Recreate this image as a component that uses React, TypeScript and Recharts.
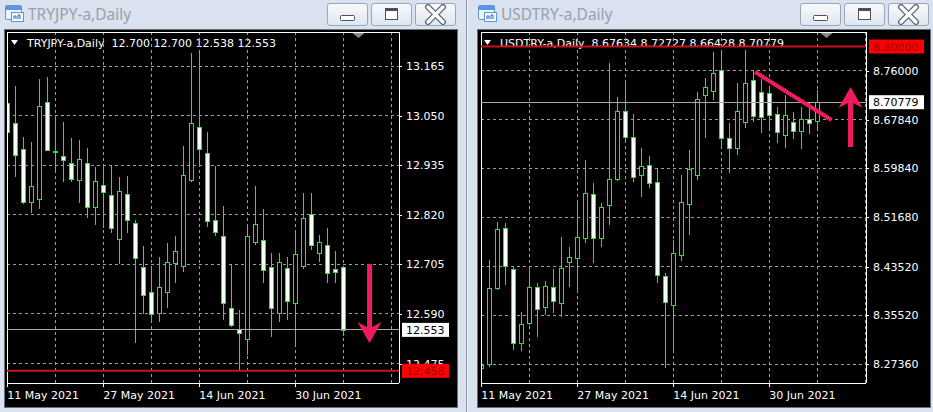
import React from 'react';
import { ComposedChart, Bar, XAxis, YAxis, CartesianGrid, ReferenceLine } from 'recharts';

// Daily sessions shown on both terminals (11 May .. 8 Jul 2021)
const dates = [
  '2021-05-11', '2021-05-12', '2021-05-13', '2021-05-14', '2021-05-17', '2021-05-18', '2021-05-19',
  '2021-05-20', '2021-05-21', '2021-05-24', '2021-05-25', '2021-05-26', '2021-05-27', '2021-05-28',
  '2021-05-31', '2021-06-01', '2021-06-02', '2021-06-03', '2021-06-04', '2021-06-07', '2021-06-08',
  '2021-06-09', '2021-06-10', '2021-06-11', '2021-06-14', '2021-06-15', '2021-06-16', '2021-06-17',
  '2021-06-18', '2021-06-21', '2021-06-22', '2021-06-23', '2021-06-24', '2021-06-25', '2021-06-28',
  '2021-06-29', '2021-06-30', '2021-07-01', '2021-07-02', '2021-07-05', '2021-07-06', '2021-07-07',
  '2021-07-08',
];

// TRYJPY-a daily OHLC
const tjOpen = [13.079, 13.033, 12.973, 12.850, 12.857, 13.082, 12.967, 12.956, 12.940, 12.901, 12.940, 12.838, 12.889, 12.866, 12.764, 12.868, 12.801, 12.699, 12.641, 12.593, 12.641, 12.709, 12.702, 12.901, 13.024, 12.963, 12.808, 12.771, 12.604, 12.556, 12.532, 12.757, 12.762, 12.699, 12.593, 12.697, 12.616, 12.702, 12.822, 12.732, 12.750, 12.694, 12.700];
const tjHigh = [13.116, 13.119, 13.000, 12.989, 13.135, 13.140, 13.047, 13.035, 12.998, 12.994, 12.975, 12.931, 12.936, 12.936, 12.908, 12.910, 12.808, 12.748, 12.699, 12.722, 12.755, 12.771, 12.980, 13.195, 13.202, 13.012, 12.933, 12.841, 12.704, 12.600, 12.799, 12.887, 12.834, 12.732, 12.732, 12.722, 12.785, 12.871, 12.871, 12.773, 12.790, 12.736, 12.700];
const tjLow = [12.994, 12.908, 12.845, 12.824, 12.834, 12.968, 12.917, 12.896, 12.896, 12.848, 12.813, 12.797, 12.790, 12.778, 12.706, 12.778, 12.523, 12.590, 12.570, 12.572, 12.604, 12.662, 12.688, 12.896, 12.931, 12.792, 12.771, 12.576, 12.560, 12.458, 12.495, 12.750, 12.662, 12.537, 12.572, 12.576, 12.514, 12.695, 12.739, 12.711, 12.662, 12.662, 12.538];
const tjClose = [13.012, 12.959, 12.850, 12.887, 13.072, 12.970, 12.965, 12.947, 12.903, 12.950, 12.838, 12.899, 12.873, 12.790, 12.875, 12.808, 12.720, 12.634, 12.590, 12.653, 12.711, 12.736, 12.912, 13.033, 12.973, 12.806, 12.780, 12.616, 12.565, 12.546, 12.771, 12.799, 12.692, 12.604, 12.711, 12.620, 12.729, 12.813, 12.750, 12.757, 12.685, 12.688, 12.553];

// USDTRY-a daily OHLC
const utOpen = [8.26779, 8.27441, 8.40024, 8.49957, 8.43169, 8.30918, 8.34229, 8.40189, 8.36878, 8.40189, 8.37540, 8.44328, 8.44990, 8.48301, 8.55587, 8.48301, 8.53766, 8.58070, 8.69328, 8.65023, 8.58732, 8.60388, 8.57573, 8.42010, 8.37209, 8.45487, 8.53931, 8.58732, 8.71977, 8.72639, 8.76116, 8.64858, 8.63202, 8.67507, 8.74460, 8.72474, 8.72308, 8.68831, 8.65354, 8.67507, 8.66017, 8.68003, 8.67634];
const utHigh = [8.32077, 8.44659, 8.50951, 8.50785, 8.43501, 8.36050, 8.43501, 8.40852, 8.41183, 8.43169, 8.48467, 8.46811, 8.54593, 8.61216, 8.57408, 8.54097, 8.77275, 8.71646, 8.74295, 8.68831, 8.63202, 8.61878, 8.59726, 8.42507, 8.47971, 8.58732, 8.62871, 8.72474, 8.74791, 8.79096, 8.79427, 8.67341, 8.73964, 8.79427, 8.75950, 8.74626, 8.73301, 8.69990, 8.71977, 8.69162, 8.69990, 8.70818, 8.72727];
const utLow = [8.25620, 8.26945, 8.39693, 8.40520, 8.29759, 8.29593, 8.33898, 8.31911, 8.35554, 8.35885, 8.35222, 8.40189, 8.39362, 8.47474, 8.44163, 8.46811, 8.50455, 8.57739, 8.64527, 8.57573, 8.55090, 8.56580, 8.40852, 8.26779, 8.29263, 8.44494, 8.48798, 8.57904, 8.64858, 8.71149, 8.63202, 8.59064, 8.62043, 8.66514, 8.67507, 8.65686, 8.66514, 8.64030, 8.63202, 8.64692, 8.63037, 8.65520, 8.66428];
const utClose = [8.27276, 8.40024, 8.49792, 8.43666, 8.30918, 8.34064, 8.40189, 8.36547, 8.40354, 8.37871, 8.43335, 8.45156, 8.48467, 8.55752, 8.48301, 8.53435, 8.58070, 8.69328, 8.65023, 8.58401, 8.60222, 8.57408, 8.42176, 8.37706, 8.45819, 8.54262, 8.59726, 8.71315, 8.73301, 8.75619, 8.64858, 8.63202, 8.69328, 8.73964, 8.68500, 8.68335, 8.68666, 8.65851, 8.68666, 8.66017, 8.68003, 8.67341, 8.70779];

// price scale labels
const tjTicks = [12.475, 12.59, 12.705, 12.82, 12.935, 13.05, 13.165];
const utTicks = [8.2736, 8.3552, 8.4352, 8.5168, 8.5984, 8.6784, 8.76];

// horizontal levels drawn in red
const tjSupport = 12.458;
const utResistance = 8.8;

// grid every 6 sessions, date label every 12
const gridIdx = [0, 6, 12, 18, 24, 30, 36, 42, 48];
const monthNames = ['Jan', 'Feb', 'Mar', 'Apr', 'May', 'Jun', 'Jul', 'Aug', 'Sep', 'Oct', 'Nov', 'Dec'];

const GREEN = '#33e033';
const PINK = '#f01b5e';
const FRAME = '#d9e2ee';
const AXIS_FONT = '"DejaVu Sans", Verdana, sans-serif';

const fmtDate = (s: string) => {
  const [y, m, d] = s.split('-').map(Number);
  return `${d} ${monthNames[m - 1]} ${y}`;
};

const Candle = (props: any) => {
  const { x, y, width, height, payload } = props;
  const { open, close, high, low } = payload;
  const cx = Math.round(x + width / 2) + 0.5;
  const span = high - low || 1;
  const toY = (v: number) => y + ((high - v) / span) * height;
  const top = Math.round(toY(Math.max(open, close))) + 0.5;
  const bot = Math.round(toY(Math.min(open, close))) + 0.5;
  const bear = close < open;
  return (
    <g shapeRendering="crispEdges">
      <line x1={cx} x2={cx} y1={y} y2={y + height} stroke={GREEN} />
      <rect x={cx - 2} y={top} width={4} height={Math.max(bot - top, 0)} fill={bear ? '#f4fff4' : '#000'} stroke={GREEN} />
    </g>
  );
};

const DateTick = (props: any) => {
  const { x, y, payload } = props;
  const i = payload.value;
  if (i % 12 !== 0 || !dates[i]) return <g />;
  return (
    <g>
      <line x1={x} x2={x} y1={y} y2={y + 4} stroke="#fff" shapeRendering="crispEdges" />
      <text x={x} y={y + 15.5} fill="#fff" fontSize={11} fontFamily={AXIS_FONT}>{fmtDate(dates[i])}</text>
    </g>
  );
};

// price scale: plain labels, plus boxed tags for the last close and the red level
const PriceTick = (props: any) => {
  const { x, y, payload, digits, close, level, tagWidth } = props;
  const v = payload.value;
  const text = v.toFixed(digits);
  if (v === level || v === close) {
    const isLevel = v === level;
    return (
      <g>
        <rect x={x - 4} y={y - 7} width={tagWidth} height={14} fill={isLevel ? '#ff0000' : '#ffffff'} />
        <text x={x} y={y + 4} fill={isLevel ? '#9b0000' : '#000'} fontSize={11} fontFamily={AXIS_FONT}>{text}</text>
      </g>
    );
  }
  return (
    <g>
      <line x1={x - 7} x2={x - 4} y1={Math.round(y) + 0.5} y2={Math.round(y) + 0.5} stroke="#fff" />
      <text x={x} y={y + 4} fill="#fff" fontSize={11} fontFamily={AXIS_FONT}>{text}</text>
    </g>
  );
};

// arrow from the first segment point (tail) to the second one (tip)
const arrowShape = (p: any) => {
  const { x1, y1, x2, y2 } = p;
  const dx = x2 - x1;
  const dy = y2 - y1;
  const len = Math.hypot(dx, dy) || 1;
  const ux = dx / len;
  const uy = dy / len;
  const nx = -uy;
  const ny = ux;
  const headLen = 21;
  const headHalf = 12;
  const shaft = 5;
  const notch = 5;
  const bx = x2 - ux * headLen;
  const by = y2 - uy * headLen;
  const pts = [
    [x1 + (nx * shaft) / 2, y1 + (ny * shaft) / 2],
    [bx + ux * notch + (nx * shaft) / 2, by + uy * notch + (ny * shaft) / 2],
    [bx + nx * headHalf, by + ny * headHalf],
    [x2, y2],
    [bx - nx * headHalf, by - ny * headHalf],
    [bx + ux * notch - (nx * shaft) / 2, by + uy * notch - (ny * shaft) / 2],
    [x1 - (nx * shaft) / 2, y1 - (ny * shaft) / 2],
  ];
  return <polygon points={pts.map((q) => q.join(',')).join(' ')} fill={PINK} />;
};

// small grey "chart shift" marker at the top of the plot
const shiftMarker = (p: any) => {
  const x = Math.round(p.x1) + 0.5;
  const top = Math.min(p.y1, p.y2);
  return <polygon points={`${x - 6},${top + 1} ${x + 6},${top + 1} ${x},${top + 6}`} fill="#8a8a8a" />;
};

interface ChartProps {
  open: number[];
  high: number[];
  low: number[];
  close: number[];
  digits: number;
  xDomain: [number, number];
  yDomain: [number, number];
  yTicks: number[];
  level: number;
  yAxisWidth: number;
  marginLeft: number;
  tagWidth: number;
  shiftAt: number;
  children?: React.ReactNode;
}

const CandleChart = ({ open, high, low, close, digits, xDomain, yDomain, yTicks, level, yAxisWidth, marginLeft, tagWidth, shiftAt, children }: ChartProps) => {
  const rows = dates.map((d, i) => ({ i, date: d, open: open[i], high: high[i], low: low[i], close: close[i] }));
  const last = rows[rows.length - 1];
  return (
    <ComposedChart width={452} height={377} data={rows} margin={{ top: 2, right: 0, bottom: 0, left: marginLeft }}>
      <CartesianGrid
        stroke="#9e9e9e"
        strokeDasharray="3 3"
        shapeRendering="crispEdges"
        horizontalValues={yTicks}
        verticalValues={gridIdx}
      />
      <XAxis
        dataKey="i"
        type="number"
        domain={xDomain}
        allowDataOverflow
        ticks={gridIdx}
        interval={0}
        height={24}
        tickSize={0}
        tickMargin={0}
        tickLine={false}
        axisLine={{ stroke: '#fff', shapeRendering: 'crispEdges' }}
        tick={<DateTick />}
      />
      <YAxis
        orientation="right"
        type="number"
        domain={yDomain}
        allowDataOverflow
        ticks={[...yTicks, last.close, level]}
        interval={0}
        width={yAxisWidth}
        tickSize={3}
        tickMargin={4}
        tickLine={false}
        axisLine={{ stroke: '#fff', shapeRendering: 'crispEdges' }}
        tick={<PriceTick digits={digits} close={last.close} level={level} tagWidth={tagWidth} />}
      />
      <ReferenceLine y={yDomain[1]} stroke="#fff" shapeRendering="crispEdges" />
      <ReferenceLine x={xDomain[0]} stroke="#fff" shapeRendering="crispEdges" />
      <ReferenceLine y={last.close} stroke="#a8a8a8" shapeRendering="crispEdges" />
      <ReferenceLine y={level} stroke="#c8141c" strokeWidth={2} />
      <Bar dataKey={(d: any) => [d.low, d.high]} shape={<Candle />} barSize={5} isAnimationActive={false} />
      <ReferenceLine x={shiftAt} stroke="none" shape={shiftMarker} />
      {children}
    </ComposedChart>
  );
};

const Buttons = ({ ox }: { ox: number }) => {
  const base: React.CSSProperties = {
    position: 'absolute',
    top: 3,
    width: 41,
    height: 23,
    boxSizing: 'border-box',
    border: '1px solid #9aa7b8',
    borderRadius: 3,
    background: 'linear-gradient(#f7f9fc, #dfe6ef)',
  };
  return (
    <>
      <div style={{ ...base, left: ox + 327 }}>
        <svg width={39} height={21}>
          <rect x={12.5} y={11.5} width={14} height={5} rx={1} fill="#fff" stroke="#4b515a" />
        </svg>
      </div>
      <div style={{ ...base, left: ox + 371 }}>
        <svg width={39} height={21}>
          <rect x={13.5} y={4.5} width={12} height={11} fill="#fff" stroke="#4b515a" />
          <rect x={14} y={5} width={11} height={2} fill="#4b515a" />
        </svg>
      </div>
      <div style={{ ...base, left: ox + 415 }}>
        <svg width={39} height={21}>
          <path d="M12 3 L27 18 M27 3 L12 18" stroke="#5a626d" strokeWidth={6} strokeLinecap="round" />
          <path d="M12 3 L27 18 M27 3 L12 18" stroke="#fff" strokeWidth={3.5} strokeLinecap="round" />
        </svg>
      </div>
    </>
  );
};

const TitleIcon = ({ ox }: { ox: number }) => (
  <svg width={20} height={18} style={{ position: 'absolute', left: ox + 5, top: 5 }}>
    <rect x={0.5} y={0.5} width={16} height={14} rx={1.5} fill="#eef4fb" stroke="#5f95d4" />
    <rect x={1} y={1} width={15} height={4} fill="#5a97de" />
    <rect x={6.5} y={7.5} width={12} height={9} fill="#f6f9fd" stroke="#5f95d4" />
    <path d="M9 14 L9 11 L11 11 L11 14 M13 14 L13 10 L15 10 L15 14" stroke="#2f6cc0" fill="none" />
  </svg>
);

const Header = ({ ox, text }: { ox: number; text: string }) => (
  <>
    <svg width={8} height={6} style={{ position: 'absolute', left: ox + 11, top: 40 }}>
      <polygon points="0,0 7,0 3.5,5" fill="#fff" />
    </svg>
    <div
      style={{
        position: 'absolute',
        left: ox + 27,
        top: 37,
        fontFamily: AXIS_FONT,
        fontSize: 11,
        lineHeight: '13px',
        color: '#fff',
        whiteSpace: 'pre',
      }}
    >
      {text}
    </div>
  </>
);

const Window = ({ ox, title, header, children }: { ox: number; title: string; header: string; children: React.ReactNode }) => (
  <>
    <TitleIcon ox={ox} />
    <div
      style={{
        position: 'absolute',
        left: ox + 28,
        top: 3,
        fontFamily: '"Noto Sans", sans-serif',
        fontSize: 15.5,
        color: '#98a1ac',
        whiteSpace: 'pre',
      }}
    >
      {title}
    </div>
    <Buttons ox={ox} />
    <div style={{ position: 'absolute', left: ox + 5, top: 30, width: 452, height: 377, background: '#000', boxShadow: '0 0 0 1px #68707a' }} />
    <Header ox={ox} text={header} />
    <div style={{ position: 'absolute', left: ox + 5, top: 30 }}>{children}</div>
  </>
);

const ohlcLine = (o: number[], h: number[], l: number[], c: number[], digits: number) => {
  const n = o.length - 1;
  return [o[n], h[n], l[n], c[n]].map((v) => v.toFixed(digits)).join(' ');
};

export default function App() {
  return (
    <div style={{ position: 'absolute', left: 0, top: 0, width: 933, height: 412, background: FRAME, overflow: 'hidden' }}>
      <div style={{ position: 'absolute', left: 466, top: 0, width: 1, height: 412, background: '#8e9aa9' }} />
      <div style={{ position: 'absolute', left: 467, top: 0, width: 1, height: 412, background: '#eef2f7' }} />

      <Window ox={0} title="TRYJPY-a,Daily" header={`TRYJPY-a,Daily  ${ohlcLine(tjOpen, tjHigh, tjLow, tjClose, 3)}`}>
        <CandleChart
          open={tjOpen}
          high={tjHigh}
          low={tjLow}
          close={tjClose}
          digits={3}
          xDomain={[-0.04, 48.96]}
          yDomain={[12.4298, 13.2439]}
          yTicks={tjTicks}
          level={tjSupport}
          yAxisWidth={58}
          marginLeft={2}
          tagWidth={47}
          shiftAt={43.87}
        >
          <ReferenceLine segment={[{ x: 45.28, y: 12.706 }, { x: 45.28, y: 12.5226 }]} stroke="none" shape={arrowShape} />
        </CandleChart>
      </Window>

      <Window ox={473} title="USDTRY-a,Daily" header={`USDTRY-a,Daily  ${ohlcLine(utOpen, utHigh, utLow, utClose, 5)}`}>
        <CandleChart
          open={utOpen}
          high={utHigh}
          low={utLow}
          close={utClose}
          digits={5}
          xDomain={[-0.04, 48.085]}
          yDomain={[8.2426, 8.8241]}
          yTicks={utTicks}
          level={utResistance}
          yAxisWidth={64}
          marginLeft={3}
          tagWidth={55}
          shiftAt={43.09}
        >
          <ReferenceLine segment={[{ x: 34.21, y: 8.7578 }, { x: 43.78, y: 8.6783 }]} stroke={PINK} strokeWidth={4} />
          <ReferenceLine segment={[{ x: 46.15, y: 8.6336 }, { x: 46.15, y: 8.733 }]} stroke="none" shape={arrowShape} />
        </CandleChart>
      </Window>
    </div>
  );
}
